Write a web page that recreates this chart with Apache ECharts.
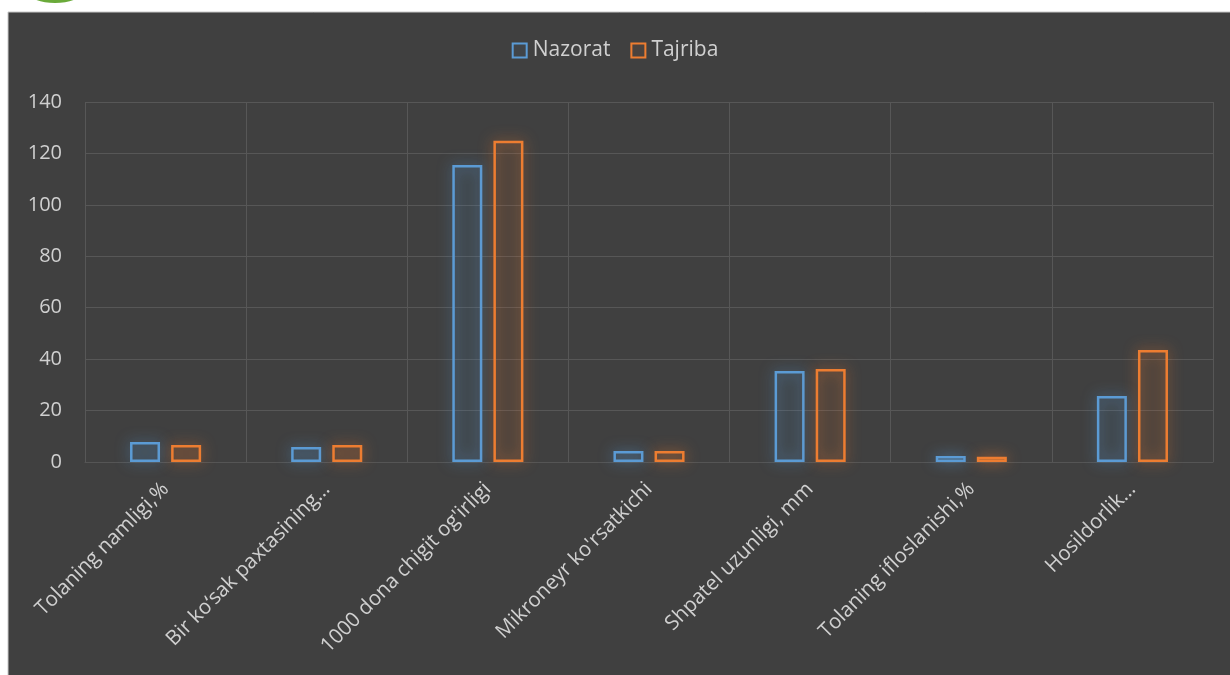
<!DOCTYPE html>
<html>
<head>
<meta charset="utf-8">
<script src="https://cdn.jsdelivr.net/npm/echarts@6/dist/echarts.min.js"></script>
<style>
  html, body { margin: 0; padding: 0; background: #ffffff; }
  #chart { width: 1230px; height: 675px; }
</style>
</head>
<body>
<div id="chart"></div>
<script>
const categories = [
  "Tolaning namligi,%",
  "Bir ko‘sak paxtasining…",
  "1000 dona chigit og'irligi",
  "Mikroneyr ko'rsatkichi",
  "Shpatel uzunligi, mm",
  "Tolaning ifloslanishi,%",
  "Hosildorlik…"
];
const seriesNames = ["Nazorat", "Tajriba"];
const nazorat = [7.8, 5.8, 115.5, 4.3, 35.4, 2.3, 25.7];
const tajriba = [6.6, 6.6, 124.9, 4.3, 36.2, 2.0, 43.6];
const yTicks = { min: 0, max: 140, interval: 20 };

const fontFam = "'Open Sans', sans-serif";
const txt = '#d0d0d0';
const blue = '#5B9BD5';
const orange = '#ED7D31';

const chart = echarts.init(document.getElementById('chart'));
chart.setOption({
  backgroundColor: '#ffffff',
  animation: false,
  graphic: [
    { type: 'rect', z: -10, shape: { x: 8, y: 12, width: 1230, height: 670 },
      style: { fill: '#404040', stroke: '#c8c8c8', lineWidth: 1 } },
    { type: 'ellipse', z: -10, shape: { cx: 55, cy: -9, rx: 28, ry: 12 },
      style: { fill: '#6aaa3a' } }
  ],
  legend: {
    top: 35,
    left: 'center',
    itemWidth: 14,
    itemHeight: 14,
    itemGap: 20,
    icon: 'rect',
    textStyle: { color: txt, fontSize: 21, fontFamily: fontFam, padding: [0, 0, 0, 1] },
    data: seriesNames
  },
  grid: { left: 85, right: 17, top: 102, bottom: 213 },
  xAxis: {
    type: 'category',
    data: categories,
    axisLine: { show: true, lineStyle: { color: '#555555' } },
    axisTick: { show: false },
    splitLine: { show: true, lineStyle: { color: '#575757', width: 1 } },
    axisLabel: {
      rotate: 45,
      interval: 0,
      margin: 24,
      color: txt,
      fontSize: 20.5,
      fontFamily: fontFam,
      padding: [0, 0, 0, 0]
    }
  },
  yAxis: {
    type: 'value',
    min: yTicks.min,
    max: yTicks.max,
    interval: yTicks.interval,
    axisLine: { show: false },
    axisTick: { show: false },
    splitLine: { lineStyle: { color: '#575757', width: 1 } },
    axisLabel: { color: txt, fontSize: 20, fontFamily: fontFam, margin: 23 }
  },
  series: [
    {
      name: seriesNames[0],
      type: 'bar',
      data: nazorat,
      barWidth: 30,
      barGap: '37%',
      itemStyle: {
        color: 'rgba(91,155,213,0.06)',
        borderColor: blue,
        borderWidth: 2.5,
        shadowBlur: 14,
        shadowColor: 'rgba(91,155,213,0.75)'
      }
    },
    {
      name: seriesNames[1],
      type: 'bar',
      data: tajriba,
      barWidth: 30,
      itemStyle: {
        color: 'rgba(237,125,49,0.06)',
        borderColor: orange,
        borderWidth: 2.5,
        shadowBlur: 14,
        shadowColor: 'rgba(237,125,49,0.75)'
      }
    }
  ]
});
</script>
</body>
</html>
